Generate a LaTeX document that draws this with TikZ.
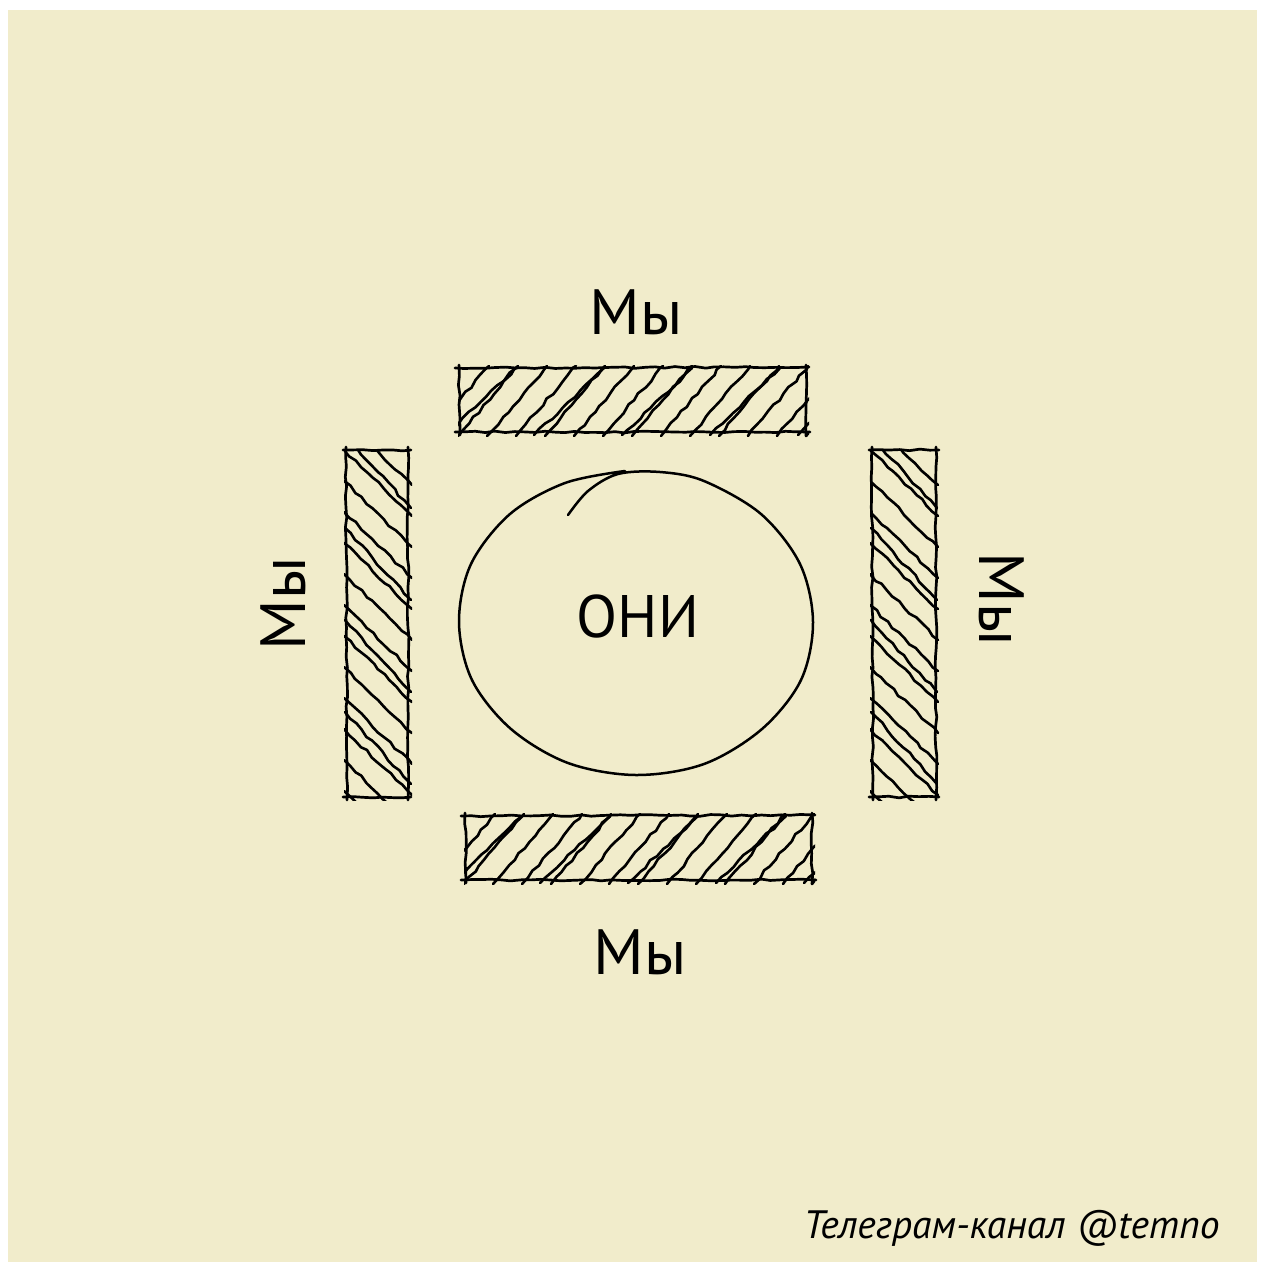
\documentclass[tikz,border=0pt]{standalone}
\usepackage{fontspec}
\setmainfont{PT Sans}
\usetikzlibrary{decorations.pathmorphing}
\definecolor{cream}{HTML}{F1ECCB}
\begin{document}
\begin{tikzpicture}[x=0.5pt,y=-0.5pt,
  sketch/.style={line width=1.35pt, line cap=round, line join=round, decorate,
    decoration={random steps,segment length=5pt,amplitude=0.45pt}},
  hatch/.style={line width=1.3pt, line cap=round, line join=round, decorate,
    decoration={random steps,segment length=4pt,amplitude=0.65pt}},
  hand/.style={font=\fontsize{32}{32}\selectfont, inner sep=0pt},
]
\pgfmathsetseed{12}
\fill[white] (0,0) rectangle (1265,1270);
\fill[cream] (8,10) rectangle (1257,1262);
\useasboundingbox (0,0) rectangle (1265,1270);

% ---- top bar
\begin{scope}
  \clip (458,365) rectangle (809,436);
  \foreach \x in {429,458,...,810} \draw[hatch] (\x,436) -- (\x+60,366);
  \foreach \x in {446,534,...,810} \draw[hatch] (\x,435) -- (\x+70,368);
\end{scope}
\draw[sketch] (455,368) -- (809,367);
\draw[sketch] (455,432) -- (810,432);
\draw[sketch] (459,365) -- (460,435);
\draw[sketch] (806,365) -- (806,436);

% ---- bottom bar
\begin{scope}
  \clip (464,813) rectangle (815,884);
  \foreach \x in {435,464,...,816} \draw[hatch] (\x,884) -- (\x+60,814);
  \foreach \x in {452,540,...,816} \draw[hatch] (\x,883) -- (\x+70,816);
\end{scope}
\draw[sketch] (461,816) -- (815,815);
\draw[sketch] (461,880) -- (816,880);
\draw[sketch] (465,813) -- (466,883);
\draw[sketch] (812,813) -- (812,884);

% ---- left bar
\begin{scope}
  \clip (344,449) rectangle (412,800);
  \foreach \y in {419,450,...,800} \draw[hatch] (344,\y) -- (412,\y+66);
  \foreach \y in {436,528,...,800} \draw[hatch] (345,\y) -- (411,\y+72);
\end{scope}
\draw[sketch] (346,447) -- (347,800);
\draw[sketch] (408,447) -- (408,800);
\draw[sketch] (343,450) -- (411,450);
\draw[sketch] (343,797) -- (411,797);

% ---- right bar
\begin{scope}
  \clip (870,449) rectangle (940,800);
  \foreach \y in {419,450,...,800} \draw[hatch] (870,\y) -- (938,\y+66);
  \foreach \y in {436,528,...,800} \draw[hatch] (871,\y) -- (937,\y+72);
\end{scope}
\draw[sketch] (872,447) -- (873,800);
\draw[sketch] (936,447) -- (936,800);
\draw[sketch] (869,450) -- (939,450);
\draw[sketch] (869,797) -- (939,797);

% ---- circle
\draw[line width=1.25pt, line cap=round, line join=round] plot[smooth, tension=0.55] coordinates {
  (568,515) (588,491) (618,474) (660,472) (704,481) (761,514) (800,564)
  (813,622) (801,680) (762,729) (704,764) (636,775) (568,763) (511,729)
  (472,680) (459,622) (471,564) (510,514) (565,483) (625,471)};

% ---- texts
\node[hand] (mytop) at (636,312) {Мы};
\node[hand] (mybot) at (640,952) {Мы};
\node[hand, rotate=90] (myleft) at (283,604) {Мы};
\node[hand, rotate=-90] (myright) at (1002,599) {Мы};
\node[font=\fontsize{30}{30}\selectfont, inner sep=0pt] (oni) at (638,616) {ОНИ};
\node[anchor=base east, inner sep=0pt, font=\itshape\fontsize{19.8}{20}\selectfont] (tg) at (1220,1238) {Телеграм-канал @temno};
\end{tikzpicture}
\end{document}
